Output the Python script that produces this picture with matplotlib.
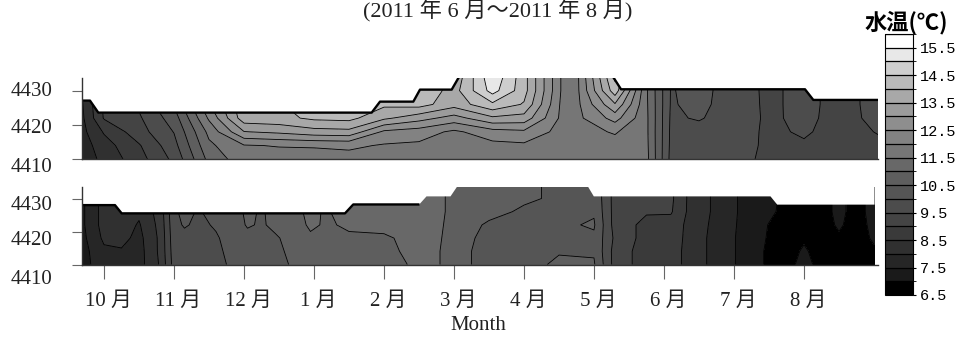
import numpy as np
import matplotlib.pyplot as plt
from matplotlib.colors import ListedColormap, BoundaryNorm
from matplotlib.cm import ScalarMappable
from matplotlib.transforms import ScaledTranslation

plt.rcParams['font.family'] = ['Liberation Serif', 'Noto Sans CJK JP']

# x = months from the October tick (0 = 10月), y = elevation (m)
months = ['10 月', '11 月', '12 月', '1 月', '2 月', '3 月', '4 月', '5 月', '6 月', '7 月', '8 月']
month_pos = np.arange(len(months))
levels = np.arange(6.5, 16.01, 0.5)
elev = [4410, 4414, 4418, 4422, 4426, 4430, 4434]

# upper section, temperature (deg C) at each sample column
top_x = [-0.314, 0.0, 0.5, 1.0, 1.5, 2.0, 2.5, 3.0, 3.5, 4.0, 4.5, 5.0, 5.55,
         6.0, 6.55, 6.75, 7.3, 7.75, 8.1, 8.5, 9.0, 9.5, 10.0, 10.5, 11.057]
top_4410 = [7.7, 8.14, 8.8, 9.62, 11.15, 11.8, 11.75, 11.75, 11.8, 11.8, 11.8, 11.75, 11.75,
            11.75, 11.75, 11.75, 11.75, 11.65, 9.85, 9.75, 9.65, 9.4, 9.38, 9.3, 9.35]
top_4414 = [7.75, 8.28, 8.95, 9.83, 11.39, 11.96, 12.03, 12.05, 12.1, 11.95, 11.9, 11.85, 11.85,
            11.9, 11.8, 11.78, 11.8, 11.62, 9.88, 9.78, 9.68, 9.42, 9.45, 9.33, 9.42]
top_4418 = [7.85, 8.55, 9.29, 10.02, 11.64, 12.98, 13.1, 13.3, 13.35, 12.4, 12.25, 11.9, 12.3,
            12.4, 11.8, 11.8, 12.05, 11.6, 9.9, 9.8, 9.7, 9.42, 9.55, 9.35, 9.52]
top_4422 = [7.9, 9.04, 9.43, 10.25, 12.08, 13.8, 13.85, 14.1, 14.15, 13.6, 13.2, 12.8, 13.4,
            13.3, 11.85, 11.85, 12.7, 11.6, 9.92, 10.05, 9.72, 9.43, 9.6, 9.36, 9.6]
top_4426 = [7.95, 9.1, 9.58, 10.55, 12.45, 13.9, 13.95, 14.3, 14.3, 14.1, 14.2, 13.7, 14.4,
            13.95, 11.85, 11.85, 13.45, 11.58, 9.95, 10.15, 9.72, 9.42, 9.62, 9.36, 9.62]
top_4430 = [8.0, 9.1, 9.6, 10.6, 12.55, 13.95, 13.97, 14.3, 14.3, 14.2, 14.4, 13.8, 15.2,
            14.2, 11.9, 11.85, 14.3, 11.56, 9.96, 10.2, 9.7, 9.42, 9.62, 9.36, 9.62]
top_4434 = [8.0, 9.1, 9.6, 10.6, 12.55, 13.95, 13.97, 14.3, 14.3, 14.2, 14.5, 13.6, 15.4,
            14.2, 11.9, 11.85, 14.6, 11.56, 9.96, 10.2, 9.7, 9.42, 9.62, 9.36, 9.62]
top_surf_x = [-0.314, -0.2, -0.081, 3.824, 3.943, 4.419, 4.514, 4.967, 5.086,
              7.257, 7.386, 10.014, 10.133, 11.057]
top_surf_z = [4427.1, 4427.1, 4423.6, 4423.6, 4426.8, 4426.8, 4430.3, 4430.3, 4434.5,
              4434.5, 4430.4, 4430.4, 4427.3, 4427.3]

# lower section
bot_x = [-0.314, 0.0, 0.25, 0.5, 0.8, 1.0, 1.15, 1.35, 1.6, 1.85, 2.05, 2.25, 2.45, 2.7,
         2.95, 3.15, 3.5, 4.0, 4.5, 4.75, 5.0, 5.5, 6.0, 6.5, 7.0, 7.3, 7.75, 8.1, 8.4,
         8.75, 9.2, 9.5, 9.75, 10.0, 10.25, 10.5, 10.75, 11.0]
bot_4410 = [7.3, 7.8, 7.85, 7.8, 8.55, 9.7, 9.75, 9.8, 9.85, 10.1, 10.3, 10.3, 10.35, 10.55,
            10.8, 10.8, 10.85, 10.9, 11.05, 11.1, 10.6, 10.4, 10.4, 10.55, 10.55, 9.3, 8.75, 8.7, 8.3,
            7.8, 7.3, 6.9, 6.85, 7.15, 6.85, 6.85, 6.85, 6.9]
bot_4414 = [7.3, 7.9, 7.95, 7.8, 8.6, 9.75, 9.8, 9.85, 9.9, 10.15, 10.3, 10.35, 10.4, 10.6,
            10.8, 10.85, 10.9, 10.92, 11.1, 11.1, 10.6, 10.4, 10.4, 10.48, 10.45, 9.3, 8.75, 8.7, 8.3,
            7.8, 7.3, 6.9, 6.85, 7.05, 6.85, 6.88, 6.85, 6.95]
bot_4418 = [7.35, 8.1, 8.15, 7.85, 8.6, 9.8, 9.85, 9.85, 9.95, 10.2, 10.35, 10.4, 10.45, 10.65,
            10.9, 10.9, 10.95, 10.96, 11.1, 11.15, 10.65, 10.4, 10.42, 10.45, 10.42, 9.4, 8.8, 8.75, 8.3,
            7.8, 7.3, 6.95, 6.85, 6.95, 6.85, 6.95, 6.85, 7.05]
bot_4422 = [7.4, 8.2, 8.25, 7.95, 8.65, 9.85, 10.05, 9.9, 10.05, 10.25, 10.55, 10.45, 10.6, 10.7,
            11.1, 10.95, 11.05, 11.08, 11.15, 11.2, 10.7, 10.45, 10.45, 10.42, 10.55, 9.3, 8.85, 8.8, 8.3,
            7.85, 7.3, 6.98, 6.85, 6.9, 6.85, 7.05, 6.85, 7.1]
bot_4426 = [7.4, 8.2, 8.2, 8.1, 8.7, 9.9, 10.15, 9.95, 10.2, 10.3, 10.6, 10.45, 10.65, 10.8,
            11.15, 10.95, 11.15, 11.1, 11.2, 11.2, 10.8, 10.6, 10.45, 10.4, 10.45, 9.3, 9.05, 9.05, 8.3,
            7.9, 7.3, 7.1, 6.85, 6.85, 6.85, 7.1, 6.85, 7.15]
bot_4430 = [7.4, 8.2, 8.2, 8.1, 8.7, 9.9, 10.15, 9.95, 10.2, 10.3, 10.6, 10.45, 10.65, 10.8,
            11.15, 10.95, 11.15, 11.1, 11.2, 11.2, 10.8, 10.7, 10.55, 10.45, 10.4, 9.3, 9.1, 9.1, 8.3,
            7.9, 7.3, 7.15, 6.85, 6.85, 6.85, 7.1, 6.85, 7.15]
bot_4434 = [7.4, 8.2, 8.2, 8.1, 8.7, 9.9, 10.15, 9.95, 10.2, 10.3, 10.6, 10.45, 10.65, 10.8,
            11.15, 10.95, 11.15, 11.1, 11.2, 11.2, 10.8, 10.7, 10.55, 10.45, 10.4, 9.3, 9.1, 9.1, 8.3,
            7.9, 7.3, 7.15, 6.85, 6.85, 6.85, 7.1, 6.85, 7.15]
bot_surf_x = [-0.314, 0.157, 0.253, 3.443, 3.561, 4.49, 4.6, 4.943, 5.061,
              6.886, 6.99, 9.514, 9.61, 11.0]
bot_surf_z = [4428.0, 4428.0, 4425.5, 4425.5, 4428.2, 4428.2, 4430.8, 4430.8, 4434.5,
              4434.5, 4430.8, 4430.8, 4428.3, 4428.3]

# grey ramp, black at 6.5 up to white at 16
greys = [0, 26, 38, 48, 58, 68, 76, 85, 94, 104, 118, 130, 142, 155, 168, 186, 206, 232, 255]
cmap = ListedColormap([(g / 255, g / 255, g / 255) for g in greys])
norm = BoundaryNorm(levels, cmap.N)

fig = plt.figure(figsize=(9.59, 3.41), dpi=100)
ax_top = fig.add_axes([82 / 959, 1 - 159.3 / 341, 796 / 959, 81 / 341])
ax_bot = fig.add_axes([82 / 959, 1 - 264.5 / 341, 796 / 959, 77.2 / 341])


def px_shift(dx, dy):
    return ScaledTranslation(dx / 100, -dy / 100, fig.dpi_scale_trans)


def section(ax, xs, rows, sx, sz, ytop, n_outline, label_shift):
    grid = np.array(rows)
    ax.contourf(xs, elev, grid, levels=levels, cmap=cmap, norm=norm)
    ax.contour(xs, elev, grid, levels=levels, colors='black', linewidths=0.6)
    ax.fill_between(sx, sz, 4440, color='white', lw=0, zorder=3)
    ax.plot(sx[:n_outline], sz[:n_outline], color='black', lw=1.7, zorder=4)
    ax.set_xlim(-0.314, 11.057)
    ax.set_ylim(4410, ytop)
    for s in ['top', 'right']:
        ax.spines[s].set_visible(False)
    for s in ['left', 'bottom']:
        ax.spines[s].set_color('#333333')
        ax.spines[s].set_linewidth(1.0)
        ax.spines[s].set_zorder(5)
    ax.set_yticks([4410, 4420, 4430])
    ax.tick_params(axis='y', direction='out', length=7.2, width=0.8, color='#666666',
                   labelsize=15, pad=14, labelcolor='#222222')
    for lab, dy in zip(ax.get_yticklabels(), label_shift):
        lab.set_transform(lab.get_transform() + px_shift(0, dy))


section(ax_top, top_x, [top_4410, top_4414, top_4418, top_4422, top_4426, top_4430, top_4434],
        top_surf_x, top_surf_z, 4433.6, len(top_surf_x), [6, 1, -2])
section(ax_bot, bot_x, [bot_4410, bot_4414, bot_4418, bot_4422, bot_4426, bot_4430, bot_4434],
        bot_surf_x, bot_surf_z, 4433.4, 6, [12, 6, 4])

ax_top.set_xticks([])
ax_bot.set_xticks(month_pos, months)
ax_bot.tick_params(axis='x', direction='out', length=10, width=0.8, color='#666666',
                   labelsize=15, pad=10, labelcolor='#222222')
for lab in ax_bot.get_xticklabels():
    lab.set_transform(lab.get_transform() + px_shift(4, 0))

fig.text(478 / 959, 1 - 325 / 341, 'Month', ha='center', va='center', fontsize=15, color='#222222')
fig.text(498 / 959, 1 - 11 / 341, '(2011 年 6 月～2011 年 8 月)', ha='center', va='center',
         fontsize=16, color='#222222')

# colour scale
cax = fig.add_axes([885 / 959, 1 - 295 / 341, 28 / 959, 261 / 341])
cb = fig.colorbar(ScalarMappable(norm=norm, cmap=cmap), cax=cax,
                  ticks=np.arange(6.5, 15.6, 1.0), format='%.1f')
cb.outline.set_linewidth(0.8)
for lv in levels:
    cax.axhline(lv, color='black', lw=0.9)
cax.tick_params(length=2, width=0.8, labelsize=11, pad=3)
for lab in cax.get_yticklabels():
    lab.set_family('Liberation Mono')
fig.text(906 / 959, 1 - 23 / 341, '水温(℃)', ha='center', va='center', fontsize=16,
         fontweight='bold', family=['Noto Sans CJK JP', 'DejaVu Sans'])

fig.savefig('out.png', dpi=100)
